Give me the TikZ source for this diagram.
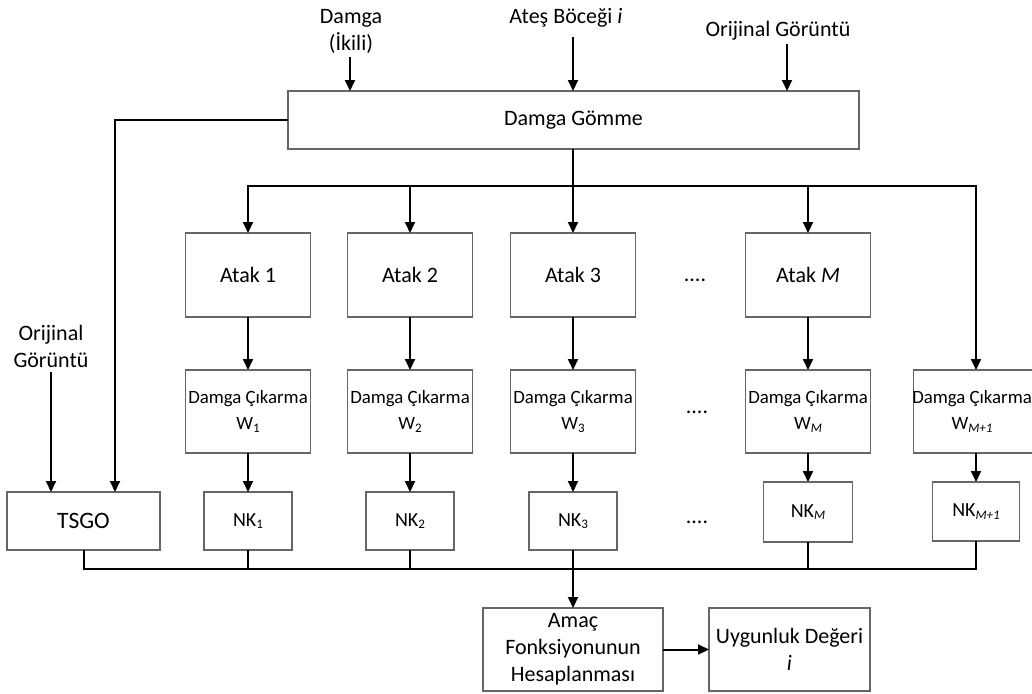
\documentclass[tikz,border=0pt]{standalone}
\usepackage{fontspec}
\setmainfont{Carlito}
\usetikzlibrary{arrows.meta}
% small lowered index used in W_k and NK_k
\newcommand\lowidx[1]{\raisebox{-0.12em}{\fontsize{13}{13}\selectfont #1}}

\begin{document}
\begin{tikzpicture}[x=1pt,y=-1pt,
  box/.style={draw=black!60, line width=1.3pt, inner sep=0pt, outer sep=0pt, align=center, fill=white},
  conn/.style={line width=2pt, draw=black},
  arr/.style={conn, -{Triangle[length=11pt,width=10pt]}},
  big/.style={font=\fontsize{22}{27}\selectfont},
  mid/.style={font=\fontsize{18.8}{26}\selectfont},
  nkf/.style={font=\fontsize{20}{24}\selectfont},
  atak/.style={box,big,minimum width=125pt,minimum height=84pt},
  extract/.style={box,mid,minimum width=125pt,minimum height=83pt},
  nk/.style={box,nkf,minimum width=88pt,minimum height=58pt},
  lbl/.style={inner sep=0pt, align=center},
]
\useasboundingbox (0,0) rectangle (1032,693);
\clip (0,0) rectangle (1032,693);

% embedding stage
\node[box,big,minimum width=571pt,minimum height=58pt] (dg) at (573.5,120) {Damga Gömme};

% inputs on top
\node[lbl,big] (inW) at (351,31) {Damga\\(İkili)};
\node[lbl,big] (inF) at (566,18) {Ateş Böceği \textit{i}};
\node[lbl,big] (inO) at (778,31) {Orijinal Görüntü};
\coordinate (aW) at (350,57);
\coordinate (aF) at (573,37);
\coordinate (aO) at (787,44);
\draw[arr] (aW) -- (aW |- dg.north);
\draw[arr] (aF) -- (aF |- dg.north);
\draw[arr] (aO) -- (aO |- dg.north);

% attacks
\node[atak] (a1) at (248,275) {Atak 1};
\node[atak] (a2) at (410,275) {Atak 2};
\node[atak] (a3) at (573,275) {Atak 3};
\node[atak] (aM) at (808,275) {Atak \textit{M}};
\node[lbl,big] (d1) at (695,280) {....};

% watermark extraction
\node[extract] (w1) at (248,411.5) {Damga Çıkarma\\W\lowidx{1}};
\node[extract] (w2) at (410,411.5) {Damga Çıkarma\\W\lowidx{2}};
\node[extract] (w3) at (573,411.5) {Damga Çıkarma\\W\lowidx{3}};
\node[extract] (wM) at (808,411.5) {Damga Çıkarma\\W\lowidx{\textit{M}}};
\node[extract] (wM1) at (976,411.5) {};
\node[lbl,mid] (wM1t) at (972,411.5) {Damga Çıkarma\\W\lowidx{\textit{M+1}}};
\node[lbl,big] (d2) at (697,412) {....};

% correlation values
\node[nk] (n1) at (248,521) {NK\lowidx{1}};
\node[nk] (n2) at (410,521) {NK\lowidx{2}};
\node[nk] (n3) at (573,521) {NK\lowidx{3}};
\node[nk,minimum width=89pt,minimum height=60pt] (nM) at (808,512) {NK\lowidx{\textit{M}}};
\node[nk,minimum width=87pt,minimum height=59pt] (nM1) at (976,511.5) {NK\lowidx{\textit{M+1}}};
\node[lbl,big] (d3) at (697,522) {....};

% TSGO with its own original image input
\node[box,font=\fontsize{23.5}{27}\selectfont,minimum width=153pt,minimum height=58pt] (ts) at (83.5,521) {TSGO};
\node[lbl,big] (inO2) at (51,346) {Orijinal\\Görüntü};
\coordinate (aO2) at (51,372);
\draw[arr] (aO2) -- (aO2 |- ts.north);
\draw[arr] (dg.west) -| ([xshift=31.5pt]ts.north);

% objective and fitness
\node[box,big,minimum width=180pt,minimum height=83pt] (obj) at (573,649.5) {Amaç\\Fonksiyonunun\\Hesaplanması};
\node[box,big,minimum width=161pt,minimum height=83pt] (fit) at (789.5,649.5) {Uygunluk Değeri\\\textit{i}};

% distribution bus below the embedding stage
\coordinate (tb) at (573,186);
\draw[conn] (dg.south -| tb) -- (tb);
\draw[arr] (tb) -| (a1.north);
\draw[arr] (tb) -| (a2.north);
\draw[arr] (tb) -- (a3.north);
\draw[arr] (tb) -| (aM.north);
\draw[arr] (tb) -| (wM1.north);

% attack -> extraction -> correlation
\foreach \a/\w in {a1/w1,a2/w2,a3/w3,aM/wM}{
  \draw[arr] (\a.south) -- (\w.north);
}
\draw[arr] (w1.south) -- (w1.south |- n1.north);
\draw[arr] (w2.south) -- (w2.south |- n2.north);
\draw[arr] (w3.south) -- (w3.south |- n3.north);
\draw[arr] (wM.south) -- (wM.south |- nM.north);
\draw[arr] (wM1.south) -- (wM1.south |- nM1.north);

% collecting bus
\coordinate (bb) at (573,569);
\draw[conn] (ts.south) |- (bb);
\draw[conn] (n1.south) |- (bb);
\draw[conn] (n2.south) |- (bb);
\draw[conn] (n3.south) -- (bb);
\draw[conn] (nM.south) |- (bb);
\draw[conn] (nM1.south) |- (bb);
\draw[arr] (bb) -- (obj.north);
\draw[arr] (obj.east) -- (fit.west);
\end{tikzpicture}
\end{document}
